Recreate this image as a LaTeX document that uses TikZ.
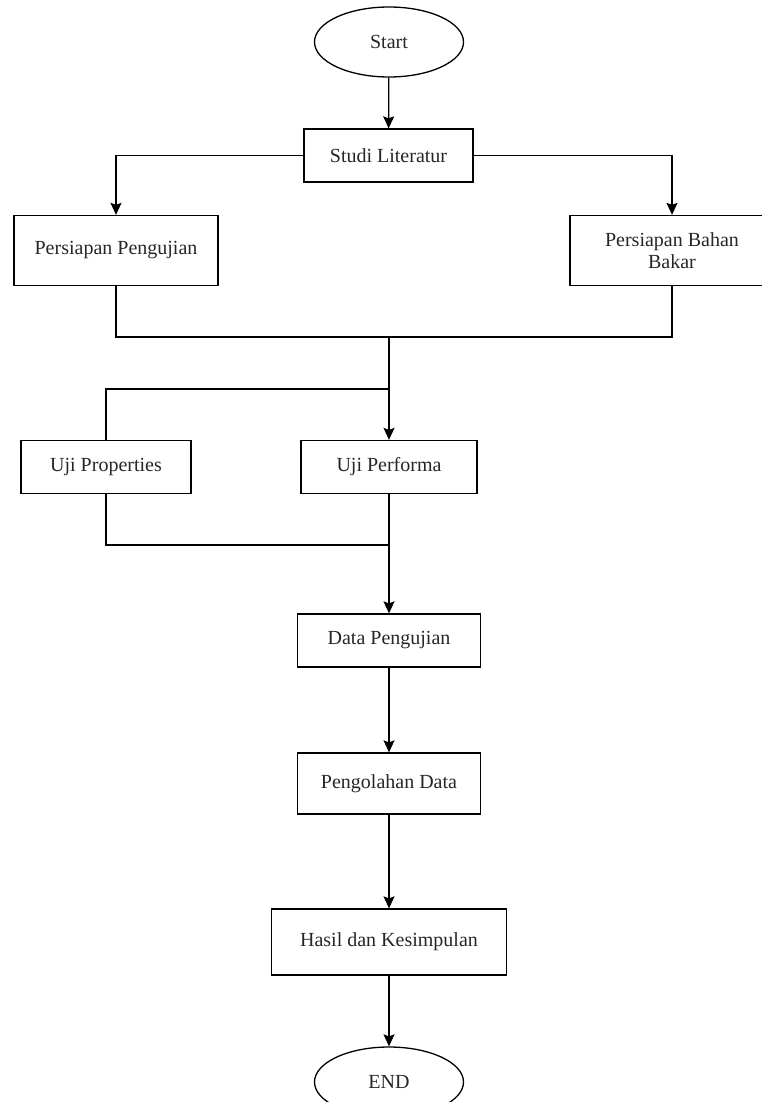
\documentclass[tikz,border=0pt]{standalone}
\usepackage{fontspec}
\setmainfont{Liberation Serif}
\usepackage{tikz}
\usetikzlibrary{positioning,arrows.meta,shapes.geometric}

\begin{document}
\begin{tikzpicture}[
  x=1pt, y=-1pt,
  line width=1.3pt,
  arr/.style={draw, -{Stealth[width=11pt, length=12pt, inset=2pt]}},
  ln/.style={draw},
  node/.style={draw, align=center, inner sep=0pt, text=black!85,
    font=\fontsize{20}{22}\selectfont},
  proc/.style={node, rectangle},
  term/.style={node, ellipse, minimum width=149pt, minimum height=70pt}
]
\useasboundingbox (0,0) rectangle (761,1102);

% -- nodes, placed at pixel positions --
\node[term] (start) at (389,42) {Start};
\node[proc, minimum width=169pt, minimum height=53pt] (studi) at (388.5,155.5) {Studi Literatur};
\node[proc, minimum width=204pt, minimum height=70pt] (prepuji) at (116,250.5) {Persiapan Pengujian};
\node[proc, minimum width=204pt, minimum height=70pt] (prepbb) at (672,250.5) {Persiapan Bahan\\Bakar};
\node[proc, minimum width=170pt, minimum height=53pt] (ujiprop) at (106,467) {Uji Properties};
\node[proc, minimum width=176pt, minimum height=53pt] (ujiperf) at (389,467) {Uji Performa};
\node[proc, minimum width=183pt, minimum height=53pt] (data) at (389,640.5) {Data Pengujian};
\node[proc, minimum width=183pt, minimum height=61pt] (olah) at (389,783.5) {Pengolahan Data};
\node[proc, minimum width=235pt, minimum height=66pt] (hasil) at (389,942) {Hasil dan Kesimpulan};
\node[term] (end) at (389,1082) {END};

% -- junctions --
\coordinate (merge1) at (389,337);
\coordinate (split) at (389,389);
\coordinate (merge2) at (389,545);

% -- connectors --
\draw[arr] (start) -- (studi);
\draw[arr] (studi.west) -| (prepuji.north);
\draw[arr] (studi.east) -| (prepbb.north);
\draw[ln] (prepuji.south) |- (merge1);
\draw[ln] (prepbb.south) |- (merge1);
\draw[arr] (merge1) -- (ujiperf.north);
\draw[ln] (split) -| (ujiprop.north);
\draw[ln] (ujiprop.south) |- (merge2);
\draw[arr] (ujiperf.south) -- (data.north);
\draw[arr] (data) -- (olah);
\draw[arr] (olah) -- (hasil);
\draw[arr] (hasil) -- (end);

\end{tikzpicture}
\end{document}
